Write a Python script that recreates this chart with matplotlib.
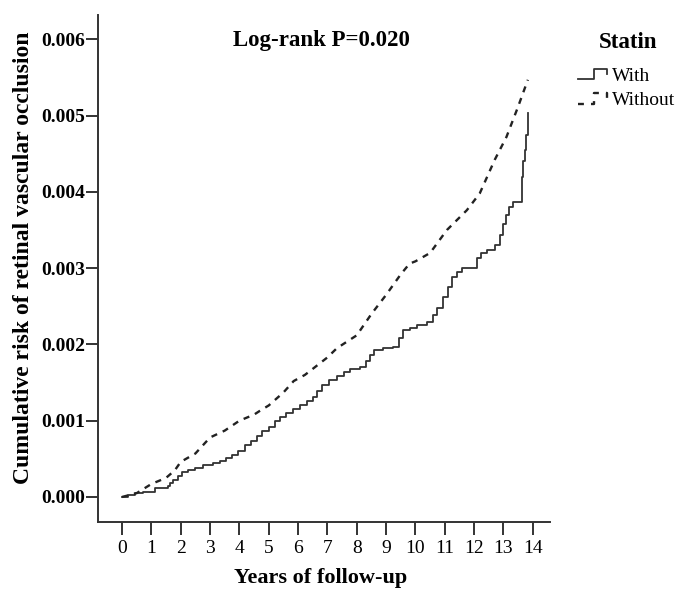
import matplotlib.pyplot as plt
from matplotlib.lines import Line2D
from matplotlib.legend_handler import HandlerBase

plt.rcParams['font.family'] = ['Liberation Serif', 'DejaVu Serif']

# Statin users (solid, step curve), risk
with_years = [0, 0.2, 0.44, 0.7, 0.9, 1.12, 1.57, 1.65, 1.74, 1.9,
              2.04, 2.25, 2.49, 2.75, 3.1, 3.35, 3.55, 3.75, 3.95, 4.19,
              4.4, 4.6, 4.77, 5.0, 5.2, 5.4, 5.6, 5.83, 6.05, 6.3,
              6.5, 6.65, 6.81, 7.05, 7.32, 7.55, 7.77, 8.1, 8.3, 8.45,
              8.6, 8.9, 9.23, 9.45, 9.57, 9.8, 10.05, 10.4, 10.6, 10.75,
              10.93, 11.1, 11.24, 11.4, 11.6, 12.09, 12.25, 12.43, 12.7, 12.87,
              13.0, 13.1, 13.2, 13.33, 13.62, 13.68, 13.73, 13.78, 13.83]
with_risk = [0, 0.00002, 0.00005, 0.00006, 0.00007, 0.00012, 0.00015, 0.00018, 0.00022, 0.00027,
             0.00033, 0.00036, 0.00038, 0.00042, 0.00044, 0.00047, 0.00051, 0.00055, 0.00060, 0.00068,
             0.00074, 0.00080, 0.00086, 0.00092, 0.00100, 0.00105, 0.00110, 0.00115, 0.00120, 0.00126,
             0.00131, 0.00139, 0.00147, 0.00153, 0.00158, 0.00164, 0.00168, 0.00171, 0.00178, 0.00186,
             0.00193, 0.00195, 0.00197, 0.00208, 0.00219, 0.00222, 0.00225, 0.00230, 0.00238, 0.00248,
             0.00262, 0.00275, 0.00288, 0.00295, 0.00300, 0.00313, 0.00320, 0.00324, 0.00330, 0.00343,
             0.00358, 0.00370, 0.00380, 0.00387, 0.00420, 0.00440, 0.00455, 0.00475, 0.00503]

# Non-users (dashed)
without_years = [0, 0.5, 1.0, 1.5, 1.8, 2.0, 2.5, 3.0, 3.5, 4.0,
                 4.5, 4.7, 5.0, 5.5, 5.85, 6.23, 6.5, 7.0, 7.32, 8.0,
                 8.5, 9.0, 9.5, 9.8, 10.0, 10.5, 11.07, 11.75, 12.19, 12.7,
                 13.1, 13.49, 13.83]
without_risk = [0, 0.00005, 0.00017, 0.00025, 0.00035, 0.00046, 0.00057, 0.00078, 0.00087, 0.00100,
                0.00108, 0.00113, 0.00120, 0.00137, 0.00152, 0.00160, 0.00168, 0.00183, 0.00195, 0.00212,
                0.00240, 0.00265, 0.00292, 0.00306, 0.00309, 0.00320, 0.00350, 0.00376, 0.00398, 0.00442,
                0.00472, 0.00511, 0.00547]

x_ticks = list(range(0, 15))
y_ticks = [0.000, 0.001, 0.002, 0.003, 0.004, 0.005, 0.006]


class StepHandler(HandlerBase):
    # legend sample drawn as a little step, like the SPSS output
    def create_artists(self, legend, orig_handle, xdescent, ydescent,
                       width, height, fontsize, trans):
        w, h = width, height
        x0 = -xdescent
        xs = [x0, x0 + 0.5 * w, x0 + 0.5 * w, x0 + 0.93 * w, x0 + 0.93 * w]
        ys = [0.1 * h, 0.1 * h, 0.85 * h, 0.85 * h, 0.45 * h]
        line = Line2D(xs, ys, color=orig_handle.get_color(),
                      linewidth=orig_handle.get_linewidth(), transform=trans)
        if orig_handle.get_linestyle() != '-':
            line.set_dashes((2.5, 3.0))
        return [line]


fig = plt.figure(figsize=(6.78, 5.90), dpi=100)
ax = fig.add_axes([0.1445, 0.1153, 0.6665, 0.8593])

l1, = ax.step(with_years, with_risk, where='post', color='#333333', linewidth=1.3)
l2, = ax.plot(without_years, without_risk, color='#222222', linewidth=1.7,
              linestyle=(0, (2.6, 2.6)))

ax.set_xlim(-0.82, 14.58)
ax.set_ylim(-0.000328, 0.00632)
ax.set_xticks(x_ticks)
ax.set_yticks(y_ticks)
ax.set_yticklabels(['%.3f' % v for v in y_ticks], fontweight='bold', fontsize=14)
ax.set_xticklabels([str(v) for v in x_ticks], fontsize=14)

for s in ['top', 'right']:
    ax.spines[s].set_visible(False)
for s in ['left', 'bottom']:
    ax.spines[s].set_linewidth(1.4)
    ax.spines[s].set_color('#333333')
ax.tick_params(axis='x', direction='out', length=9.5, width=1.4, color='#333333', pad=3.5)
ax.tick_params(axis='y', direction='out', length=8.5, width=1.4, color='#333333', pad=1)

fig.text(321 / 678, 1 - 578 / 590, 'Years of follow-up', fontsize=16,
         fontweight='bold', ha='center', va='center')
fig.text(24 / 678, 1 - 258 / 590, 'Cumulative risk of retinal vascular occlusion',
         fontsize=17, fontweight='bold', rotation=90, ha='center', va='center')

ax.text(6.8, 0.00598, 'Log-rank P=0.020', fontsize=16.5, fontweight='bold',
        ha='center', va='center')

# legend title set apart, as in the original
fig.text(628 / 678, 1 - 42 / 590, 'Statin', fontsize=16.5, fontweight='bold',
         ha='center', va='center')
leg = ax.legend([l1, l2], ['With', 'Without'],
                handler_map={Line2D: StepHandler()},
                loc='upper left', bbox_to_anchor=(578 / 678, 1 - 67 / 590),
                bbox_transform=fig.transFigure, frameon=False,
                fontsize=14, handlelength=1.6, handletextpad=0.15,
                labelspacing=0.35, borderaxespad=0, borderpad=0)

fig.savefig('out.png', dpi=100)
